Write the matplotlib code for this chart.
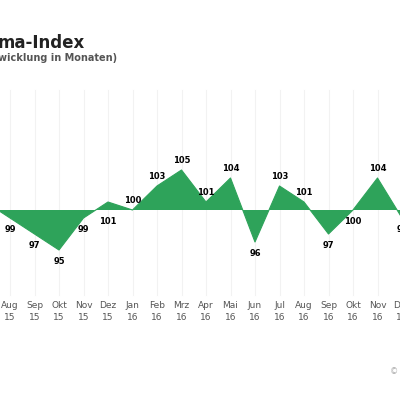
import numpy as np
import matplotlib.pyplot as plt

months = ["Jul", "Aug", "Sep", "Okt", "Nov", "Dez", "Jan", "Feb", "Mrz", "Apr",
          "Mai", "Jun", "Jul", "Aug", "Sep", "Okt", "Nov", "Dez"]
years = ["15", "15", "15", "15", "15", "15", "16", "16", "16", "16",
         "16", "16", "16", "16", "16", "16", "16", "16"]
values = [101, 99, 97, 95, 99, 101, 100, 103, 105, 101,
          104, 96, 103, 101, 97, 100, 104, 99]

x = np.arange(len(values))
v = np.array(values, dtype=float)

fig = plt.figure(figsize=(4, 4), dpi=100)
ax = fig.add_axes([0, 0, 1, 1])
ax.set_xlim(1 - 10 / 24.5, 1 + 390 / 24.5)
ax.set_ylim(100 - 190 / 8, 100 + 210 / 8)
ax.axis("off")

# faint grid
for xi in x:
    ax.plot([xi, xi], [100 - 85 / 8, 100 + 120 / 8], color="#f2f2f2", lw=0.8, zorder=0)

green = "#2ea35a"
ax.fill_between(x, v, 100, color=green, interpolate=True, lw=0, zorder=2)
ax.plot(x, v, color=green, lw=0.8, zorder=2)

for xi, val in zip(x, values):
    if xi == 0:
        continue  # outside the visible crop
    if val >= 100 and not (xi in (5, 15)):
        ax.text(xi, val + 0.6, str(val), ha="center", va="bottom",
                fontsize=6, fontweight="bold", zorder=3)
    else:
        ax.text(xi, min(val, 100) - 0.9, str(val), ha="center", va="top",
                fontsize=6, fontweight="bold", zorder=3)
    ax.text(xi, 100 - 95 / 8, months[xi], ha="center", va="center",
            fontsize=6.5, color="#555555")
    ax.text(xi, 100 - 108 / 8, years[xi], ha="center", va="center",
            fontsize=6.5, color="#555555")

fig.text(-0.005, 0.893, "ma-Index", ha="left", va="center",
         fontsize=12, fontweight="bold", color="#222222")
fig.text(-0.005, 0.855, "wicklung in Monaten)", ha="left", va="center",
         fontsize=7, fontweight="bold", color="#555555")
fig.text(0.995, 0.07, "©", ha="right", va="center", fontsize=6, color="#aaaaaa")

fig.savefig("out.png", dpi=100, facecolor="white")
